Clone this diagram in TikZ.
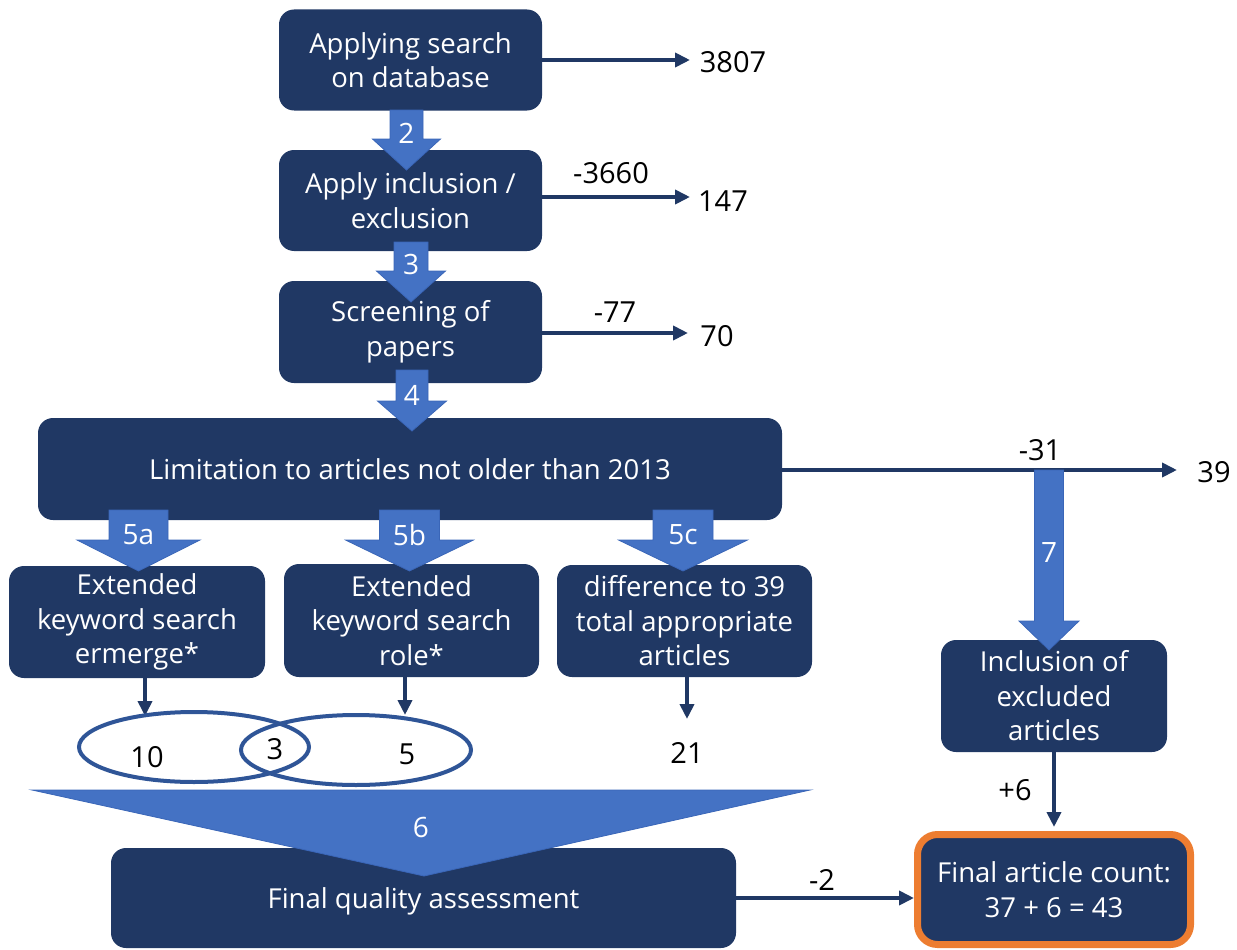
\documentclass[tikz,border=0pt]{standalone}
\usepackage{fontspec}
\setmainfont{Open Sans}
\usetikzlibrary{arrows.meta,calc}

\definecolor{navy}{HTML}{203864}
\definecolor{steel}{HTML}{4472C4}
\definecolor{steeledge}{HTML}{3A66B8}
\definecolor{ring}{HTML}{2F5597}
\definecolor{accent}{HTML}{ED7D31}

\tikzset{
  stage/.style={fill=navy, rounded corners=15pt, text=white, align=center,
    inner sep=0pt, font=\fontsize{27.5}{34.5}\selectfont},
  count/.style={text=black, inner sep=0pt, font=\fontsize{29}{35}\selectfont},
  conn/.style={draw=navy, line width=4pt, -{Triangle[length=15pt,width=14pt]}},
  blk/.style={fill=steel, draw=steeledge, line width=0.8pt, line join=miter},
  blklabel/.style={text=white, inner sep=0pt, font=\fontsize{28}{30}\selectfont},
  venn/.style={draw=ring, line width=4pt},
}

% block arrow: centre x, top y, head base y, tip y, half shaft, half head, label, label y
\newcommand\flowArrow[8]{%
  \draw[blk] ({#1-#5},#2) -- ({#1+#5},#2) -- ({#1+#5},#3) -- ({#1+#6},#3)
    -- (#1,#4) -- ({#1-#6},#3) -- ({#1-#5},#3) -- cycle;
  \node[blklabel] (lbl#7) at (#1,#8) {#7};}

\begin{document}
\begin{tikzpicture}[x=1pt,y=-1pt]
\useasboundingbox (0,0) rectangle (1237,950);

% process boxes
\node[stage, minimum width=263pt, minimum height=101pt] (b1) at (410.5,60)
  {Applying search\\on database};
\node[stage, minimum width=263pt, minimum height=101pt] (b2) at (410.5,200.5)
  {Apply inclusion /\\exclusion};
\node[stage, minimum width=263pt, minimum height=102pt] (b3) at (410.5,332)
  {Screening of\\papers};
\node[stage, minimum width=744pt, minimum height=102pt] (lim) at (410,469)
  {Limitation to articles not older than 2013};
\node[stage, minimum width=256pt, minimum height=112pt] (b5a) at (137,622)
  {Extended\\keyword search\\ermerge*};
\node[stage, minimum width=255pt, minimum height=113pt] (b5b) at (411.5,620.5)
  {Extended\\keyword search\\role*};
\node[stage, minimum width=255pt, minimum height=112pt] (b5c) at (684.5,621)
  {difference to 39\\total appropriate\\articles};
\node[stage, minimum width=226pt, minimum height=112pt] (incl) at (1054,696)
  {Inclusion of\\excluded\\articles};
\node[stage, minimum width=625pt, minimum height=100pt] (fqa) at (423.5,898) {};
\node[text=white, inner sep=0pt, font=\fontsize{27.5}{34.5}\selectfont]
  (fqatext) at (423.5,901) {Final quality assessment};
\node[stage, draw=accent, line width=7pt, rounded corners=20pt,
      minimum width=273pt, minimum height=110pt] (fcount) at (1054,889.5)
  {Final article count:\\37 + 6 = 43};

% counts beside the boxes
\node[count] (n3807) at (733,62) {3807};
\node[count] (n147) at (723,201) {147};
\node[count] (n70) at (717,336) {70};
\node[count] (n3660) at (611,173) {-3660};
\node[count] (n77) at (615,312) {-77};
\node[count] (n31) at (1040,450) {-31};
\node[count] (n39) at (1214,472) {39};
\node[count] (n21) at (687,753) {21};
\node[count] (n6) at (1015,790) {+6};
\node[count] (n2) at (822,880) {-2};

\coordinate (t1) at (690,60);
\coordinate (t2) at (690,197);
\coordinate (t3) at (688,333);
\coordinate (t39) at (1177,470);
\coordinate (v1) at (145,716);
\coordinate (v2) at (405,715);
\coordinate (v3) at (687,719);

% thin connectors
\draw[conn] (b1.east) -- (b1.east -| t1);
\draw[conn] (b2.east |- t2) -- (t2);
\draw[conn] (b3.east |- t3) -- (t3);
\draw[conn] (lim.east |- t39) -- (t39);
\draw[conn] (b5a.south -| v1) -- (v1);
\draw[conn] (b5b.south -| v2) -- (v2);
\draw[conn] (b5c.south -| v3) -- (v3);
\draw[conn, shorten >=4pt] (incl.south) -- (fcount.north);
\draw[conn] (fqa.east) -- (fqa.east -| fcount.west);

% overlapping sets
\draw[venn] (194,747) ellipse [x radius=115, y radius=35];
\draw[venn] (356,750) ellipse [x radius=115, y radius=35];
\node[count] (s10) at (147,757) {10};
\node[count] (s3) at (275,749) {3};
\node[count] (s5) at (407,754) {5};

% numbered block arrows
\flowArrow{406.5}{110}{139}{170}{16.5}{34}{2}{133}
\flowArrow{411}{242}{271}{302}{17}{34.5}{3}{264}
\flowArrow{412}{370}{401}{431}{16}{34.5}{4}{395}
\flowArrow{138.5}{510}{540}{571}{29.5}{61.5}{5a}{535}
\flowArrow{409.5}{510}{540}{571}{30}{64}{5b}{535}
\flowArrow{683}{510}{540}{571}{30}{64.5}{5c}{535}
\flowArrow{1049}{470}{621}{650}{14.5}{30}{7}{553}

% merging wedge
\draw[blk] (32,790) -- (810,790) -- (424,876) -- cycle;
\node[blklabel] (lbl6) at (421,827) {6};

\end{tikzpicture}
\end{document}
